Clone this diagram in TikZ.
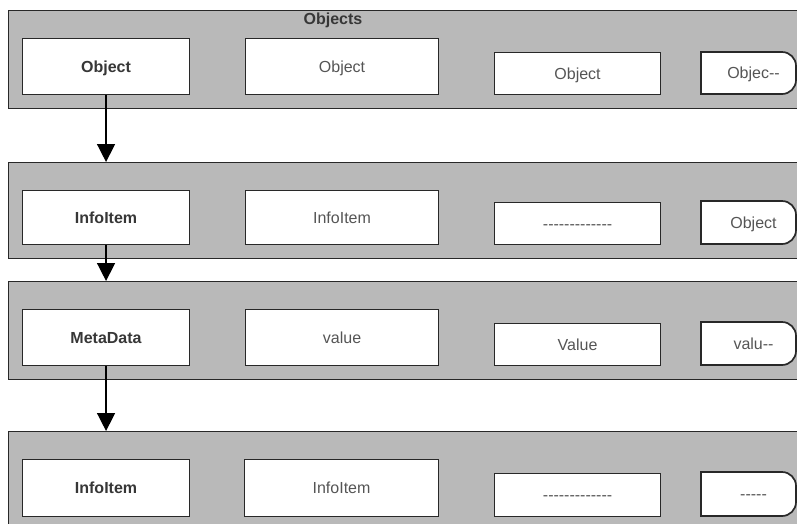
\documentclass[tikz,border=0pt]{standalone}
\usepackage{fontspec}
\newfontfamily\lsans{Liberation Sans}
\usetikzlibrary{arrows.meta}
\definecolor{panelfill}{RGB}{185,185,185}
\definecolor{edge}{RGB}{40,40,40}
\definecolor{boldtext}{RGB}{55,55,55}
\definecolor{plaintext}{RGB}{85,85,85}

% right-hand cap box: flat left side, rounded right corners
% #1 name, #2 top, #3 bottom, #4 text
\newcommand\capbox[4]{%
  \draw[capline] (701,-#2) -- (782,-#2) arc[start angle=90,end angle=0,radius=14]
    -- (796,-#3+14) arc[start angle=0,end angle=-90,radius=14] -- (701,-#3) -- cycle;
  \node[plain] (#1) at (753.5,{-(#2+#3)/2}) {#4};
}

\begin{document}
\begin{tikzpicture}[x=1pt,y=1pt,
  txt/.style={font=\lsans\fontsize{16}{19}\selectfont, text height=11.5pt, text depth=0pt, inner sep=0pt},
  plain/.style={txt, text=plaintext},
  strong/.style={txt, font=\lsans\bfseries\fontsize{16}{19}\selectfont, text=boldtext},
  panel/.style={draw=edge, line width=1.1pt, fill=panelfill, anchor=north west, inner sep=0pt},
  itembox/.style={draw=edge, line width=1.1pt, fill=white, anchor=north west, inner sep=0pt},
  capline/.style={draw=edge, line width=1.7pt, fill=white},
  flow/.style={line width=1.5pt, -{Triangle[width=18pt,length=18pt]}}
]
\useasboundingbox (0,0) rectangle (797,-523);
\clip (0,0) rectangle (797,-523);
\fill[white] (0,0) rectangle (797,-523);

% grey bands
\node[panel, minimum width=820pt, minimum height=98pt] (p1) at (8,-10) {};
\node[panel, minimum width=820pt, minimum height=96pt] (p2) at (8,-162) {};
\node[panel, minimum width=820pt, minimum height=98pt] (p3) at (8,-281) {};
\node[panel, minimum width=820pt, minimum height=120pt] (p4) at (8,-431) {};

\node[strong] (title) at (333,-19) {Objects};

% row 1
\node[itembox, strong, minimum width=167pt, minimum height=56pt] (a1) at (22,-38) {Object};
\node[itembox, plain, minimum width=193pt, minimum height=56pt] (a2) at (245,-38) {Object};
\node[itembox, plain, minimum width=166pt, minimum height=42pt] (a3) at (494,-52) {Object};
\capbox{a4}{52}{94}{Objec-{}-}

% row 2
\node[itembox, strong, minimum width=167pt, minimum height=54pt] (b1) at (22,-190) {InfoItem};
\node[itembox, plain, minimum width=193pt, minimum height=54pt] (b2) at (245,-190) {InfoItem};
\node[itembox, plain, minimum width=166pt, minimum height=42pt] (b3) at (494,-202) {-{}-{}-{}-{}-{}-{}-{}-{}-{}-{}-{}-{}-};
\capbox{b4}{201}{244}{Object}

% row 3
\node[itembox, strong, minimum width=167pt, minimum height=56pt] (c1) at (22,-309) {MetaData};
\node[itembox, plain, minimum width=193pt, minimum height=56pt] (c2) at (245,-309) {value};
\node[itembox, plain, minimum width=166pt, minimum height=42pt] (c3) at (494,-323) {Value};
\capbox{c4}{322}{365}{valu-{}-}

% row 4
\node[itembox, strong, minimum width=167pt, minimum height=57pt] (d1) at (22,-459) {InfoItem};
\node[itembox, plain, minimum width=194pt, minimum height=57pt] (d2) at (244,-459) {InfoItem};
\node[itembox, plain, minimum width=166pt, minimum height=43pt] (d3) at (494,-473) {-{}-{}-{}-{}-{}-{}-{}-{}-{}-{}-{}-{}-};
\capbox{d4}{472}{516}{-{}-{}-{}-{}-}

% links between rows
\draw[flow] (a1.south) -- (a1.south |- p2.north);
\draw[flow] (b1.south) -- (b1.south |- p3.north);
\draw[flow] (c1.south) -- (c1.south |- p4.north);
\end{tikzpicture}
\end{document}
